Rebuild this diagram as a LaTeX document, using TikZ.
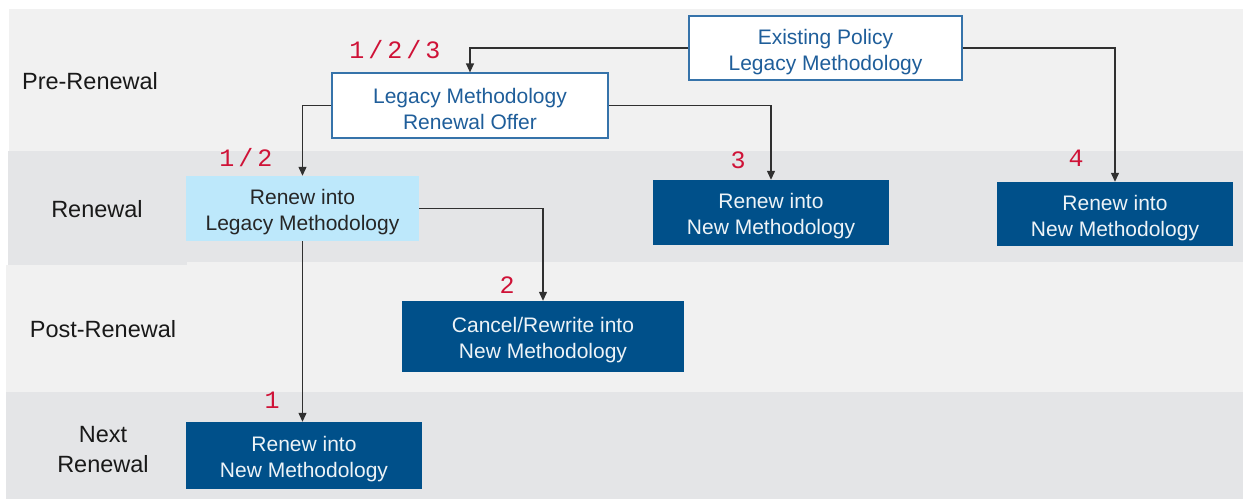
\documentclass[tikz,border=0pt]{standalone}
\usepackage{fontspec}
\setmainfont{Liberation Sans}
\newfontfamily\monof{Liberation Mono}
\usetikzlibrary{arrows.meta}
\definecolor{bandA}{HTML}{F1F1F1}
\definecolor{bandB}{HTML}{E4E5E7}
\definecolor{navy}{HTML}{00508A}
\definecolor{skyb}{HTML}{BDE8FB}
\definecolor{bluetxt}{HTML}{1F5E9A}
\definecolor{blueline}{HTML}{3673AA}
\definecolor{redn}{HTML}{CF1237}
\definecolor{linec}{HTML}{303030}
\newcommand\rsep{\kern4pt/\kern4pt}
\newcommand\tp{\rule{0pt}{23pt}}
\tikzset{
  boxtext/.style={align=center,font=\fontsize{21}{26}\selectfont,inner sep=0pt},
  whitebox/.style={boxtext,draw=blueline,line width=1.2pt,fill=white,text=bluetxt},
  skybox/.style={boxtext,fill=skyb,text=black!85},
  navybox/.style={boxtext,fill=navy,text=white!93!navy},
  phase/.style={align=center,font=\fontsize{23.5}{30}\selectfont,text=black!90,inner sep=0pt},
  num/.style={font=\monof\fontsize{25}{28}\selectfont,text=redn,inner sep=0pt},
  conn/.style={draw=linec,line width=1.2pt,-{Triangle[width=8pt,length=9pt]}}
}
\begin{document}
\begin{tikzpicture}[x=1pt,y=-1pt]
\useasboundingbox (0,0) rectangle (1243,499);
% bands
\fill[bandA] (9,9) rectangle (1243,151);
\fill[bandB] (8,151) rectangle (1243,262);
\fill[bandB] (8,151) rectangle (187,265);
\fill[bandA] (6,265) rectangle (1243,392);
\fill[bandA] (187,262) rectangle (1243,392);
\fill[bandB] (6,392) rectangle (1243,499);
% phase labels
\node[phase] (p1) at (90,81) {Pre-Renewal};
\node[phase] (p2) at (97,209) {Renewal};
\node[phase] (p3) at (103,329) {Post-Renewal};
\node[phase] (p4) at (103,450) {Next\\Renewal};
% boxes
\node[whitebox,minimum width=273pt,minimum height=64pt] (ep) at (825.5,48) {\tp Existing Policy\\Legacy Methodology};
\node[whitebox,minimum width=276pt,minimum height=65pt] (lo) at (470,105.5) {\tp Legacy Methodology\\Renewal Offer};
\node[skybox,minimum width=233pt,minimum height=65pt] (rl) at (302.5,208.5) {\tp Renew into\\Legacy Methodology};
\node[navybox,minimum width=236pt,minimum height=65pt] (r3) at (771,212.5) {\tp Renew into\\New Methodology};
\node[navybox,minimum width=236pt,minimum height=64pt] (r4) at (1115,214) {\tp Renew into\\New Methodology};
\node[navybox,minimum width=282pt,minimum height=71pt] (cr) at (543,336.5) {\tp Cancel/Rewrite into\\New Methodology};
\node[navybox,minimum width=236pt,minimum height=67pt] (nr) at (304,455.5) {\tp Renew into\\New Methodology};
% numbers
\node[num] (n123) at (395,50) {1\rsep2\rsep3};
\node[num] (n12) at (246,158) {1\rsep2};
\node[num] (n3) at (738,160) {3};
\node[num] (n4) at (1076,158) {4};
\node[num] (n2) at (507,285) {2};
\node[num] (n1) at (272,400) {1};
% connectors
\draw[conn] (ep.west) -| (lo.north);
\draw[conn] (ep.east) -| (r4.north);
\draw[conn] (lo.west) -| (rl.north);
\draw[conn] (lo.east) -| (r3.north);
\draw[conn] (rl.east) -| (cr.north);
\draw[conn] (rl.south) -- (rl.south |- nr.north);
\end{tikzpicture}
\end{document}
